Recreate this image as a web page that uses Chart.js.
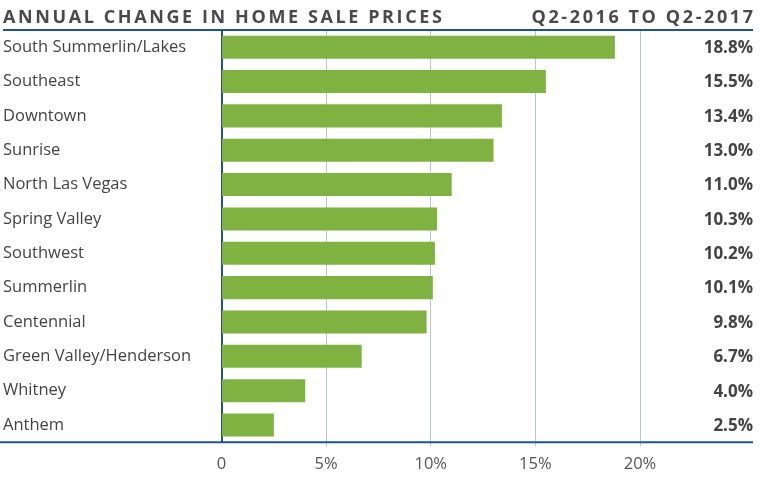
<!DOCTYPE html>
<html>
<head>
<meta charset="utf-8">
<script src="https://cdn.jsdelivr.net/npm/chart.js@4"></script>
<style>
  html, body { margin: 0; padding: 0; background: #fff; }
  #wrap { width: 760px; height: 484px; }
</style>
</head>
<body>
<div id="wrap"><canvas id="homePrices"></canvas></div>
<script>
var areas = ["South Summerlin/Lakes", "Southeast", "Downtown", "Sunrise", "North Las Vegas",
    "Spring Valley", "Southwest", "Summerlin", "Centennial", "Green Valley/Henderson", "Whitney", "Anthem"];
var changePct = [18.8, 15.5, 13.4, 13.0, 11.0, 10.3, 10.2, 10.1, 9.8, 6.7, 4.0, 2.5];
var tickValues = [0, 5, 10, 15, 20];
var titleLeft = "ANNUAL CHANGE IN HOME SALE PRICES";
var titleRight = "Q2-2016 TO Q2-2017";

var navy = '#23538f';
var txt = '#444444';

// title, rules and value labels
var decor = {
    id: 'decor',
    afterDraw: function(chart) {
        var ctx = chart.ctx;
        var area = chart.chartArea;
        var right = 753;
        ctx.save();
        ctx.fillStyle = '#4a4a4a';
        ctx.font = 'bold 18px "Open Sans"';
        ctx.letterSpacing = '2.6px';
        ctx.textBaseline = 'alphabetic';
        ctx.textAlign = 'left';
        ctx.fillText(titleLeft, 3, 23);
        ctx.textAlign = 'right';
        ctx.fillText(titleRight, right + 2.6, 23);
        ctx.letterSpacing = '0px';

        ctx.strokeStyle = navy;
        ctx.lineWidth = 2;
        ctx.beginPath();
        ctx.moveTo(3, 30); ctx.lineTo(right, 30);
        ctx.moveTo(0, area.bottom); ctx.lineTo(right, area.bottom);
        ctx.stroke();

        var meta = chart.getDatasetMeta(0);
        ctx.fillStyle = txt;
        ctx.font = 'bold 17px "Open Sans"';
        ctx.textAlign = 'right';
        ctx.textBaseline = 'middle';
        meta.data.forEach(function(bar, i) {
            ctx.fillText(changePct[i].toFixed(1) + '%', right, bar.y + 1);
        });
        ctx.restore();
    }
};

new Chart(document.getElementById('homePrices'), {
    type: 'bar',
    data: {
        labels: areas,
        datasets: [{
            data: changePct,
            backgroundColor: '#7fb241',
            borderWidth: 0,
            categoryPercentage: 0.67,
            barPercentage: 1
        }]
    },
    options: {
        indexAxis: 'y',
        responsive: true,
        maintainAspectRatio: false,
        animation: false,
        layout: { padding: { top: 30, left: 3, right: 7, bottom: 2 } },
        plugins: { legend: { display: false }, tooltip: { enabled: false } },
        scales: {
            x: {
                min: 0,
                max: 25.4,
                afterBuildTicks: function(scale) {
                    scale.ticks = tickValues.map(function(v) { return { value: v }; });
                },
                grid: {
                    color: function(c) { return c.tick && c.tick.value === 0 ? 'rgba(0,0,0,0)' : '#b5c6da'; },
                    lineWidth: 1,
                    drawTicks: true,
                    tickLength: 4
                },
                border: { display: false },
                ticks: {
                    color: '#555555',
                    font: { family: 'Open Sans', size: 16.5 },
                    padding: 8,
                    maxRotation: 0,
                    callback: function(v) { return v === 0 ? '0' : v + '%'; }
                }
            },
            y: {
                afterFit: function(scale) { scale.width = 218.5; },
                grid: { display: false, drawTicks: false },
                border: { color: navy, width: 2 },
                ticks: {
                    crossAlign: 'far',
                    color: txt,
                    padding: 0,
                    font: { family: 'Open Sans', size: 16.5 }
                }
            }
        }
    },
    plugins: [decor]
});
</script>
</body>
</html>
